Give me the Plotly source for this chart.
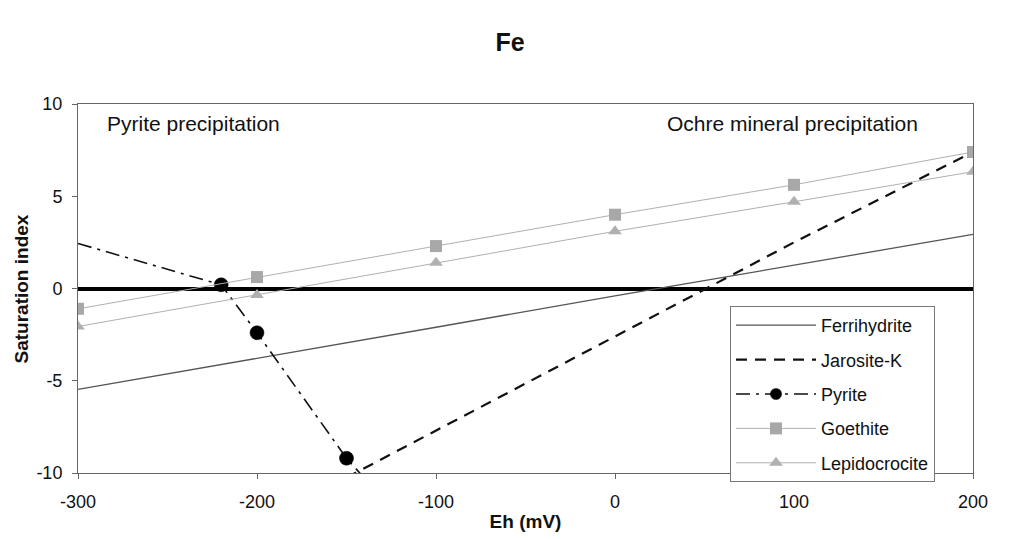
import plotly.graph_objects as go

# ---- data ----
eh_std = [-300, -200, -100, 0, 100, 200]
ferrihydrite = [-5.47, -3.8, -2.1, -0.4, 1.25, 2.93]
goethite = [-1.1, 0.62, 2.3, 4.0, 5.62, 7.4]
lepidocrocite = [-2.06, -0.35, 1.4, 3.1, 4.7, 6.33]

eh_jarosite = [-150, -100, 0, 100, 200]
jarosite = [-10.25, -7.7, -2.6, 2.5, 7.4]

eh_pyrite = [-300, -220, -200, -150, -100]
pyrite = [2.44, 0.2, -2.4, -9.2, -14.6]
pyrite_marker_sizes = [0, 14, 14, 14, 14]

x_ticks = [-300, -200, -100, 0, 100, 200]
x_tick_text = ["-300", "-200", "-100", "0", "100", "200"]
y_ticks = [-10, -5, 0, 5, 10]
y_tick_text = ["-10", "-5", "0", "5", "10"]

FONT = "Arial, Liberation Sans, sans-serif"

fig = go.Figure()

fig.add_trace(go.Scatter(
    x=eh_std, y=ferrihydrite, name="Ferrihydrite", mode="lines",
    line=dict(color="#555555", width=1.3), legendgroup="a"))
fig.add_trace(go.Scatter(
    x=eh_jarosite, y=jarosite, name="Jarosite-K", mode="lines",
    line=dict(color="#111111", width=2.2, dash="11px,8px"), legendgroup="b"))
fig.add_trace(go.Scatter(
    x=eh_pyrite, y=pyrite, name="Pyrite", mode="lines+markers",
    line=dict(color="#111111", width=1.6, dash="14px,6px,3px,6px"),
    marker=dict(symbol="circle", size=pyrite_marker_sizes, color="#000000",
                opacity=1, line=dict(width=0.5, color="#000000")),
    legendgroup="c"))
fig.add_trace(go.Scatter(
    x=eh_std, y=goethite, name="Goethite", mode="lines+markers",
    line=dict(color="#b0b0b0", width=1),
    marker=dict(symbol="square", size=12, color="#a8a8a8"), legendgroup="d"))
fig.add_trace(go.Scatter(
    x=eh_std, y=lepidocrocite, name="Lepidocrocite", mode="lines+markers",
    line=dict(color="#b0b0b0", width=1),
    marker=dict(symbol="triangle-up", size=12, color="#b0b0b0"), legendgroup="e"))

fig.add_annotation(text="Pyrite precipitation", xref="paper", yref="paper",
                   x=0.030, y=0.948, xanchor="left", yanchor="middle",
                   showarrow=False, font=dict(family=FONT, size=21, color="#111"))
fig.add_annotation(text="Ochre mineral precipitation", xref="paper", yref="paper",
                   x=0.941, y=0.948, xanchor="right", yanchor="middle",
                   showarrow=False, font=dict(family=FONT, size=21, color="#111"))
fig.add_annotation(text="<b>Saturation index</b>", xref="paper", yref="paper",
                   x=-0.0626, y=0.5, xanchor="center", yanchor="middle",
                   textangle=-90, showarrow=False,
                   font=dict(family=FONT, size=19, color="#111"))

fig.update_layout(
    width=1002, height=531,
    margin=dict(l=70, r=37, t=96, b=66, autoexpand=False),
    paper_bgcolor="white", plot_bgcolor="white",
    font=dict(family=FONT, color="#111111"),
    title=dict(text="<b>Fe</b>", x=0.501, xanchor="center", y=0.936, yanchor="middle",
               font=dict(family=FONT, size=25, color="#111")),
    legend=dict(x=0.7285, y=0.4526, xanchor="left", yanchor="top",
                bgcolor="white", bordercolor="#777777", borderwidth=1,
                font=dict(family=FONT, size=18, color="#111"),
                itemwidth=80, traceorder="grouped", tracegroupgap=8),
    showlegend=True,
)

fig.update_xaxes(
    range=[-300, 200], tickvals=x_ticks, ticktext=x_tick_text,
    ticks="outside", ticklen=5,
    tickcolor="#666", showgrid=False, zeroline=False,
    showline=True, mirror=True, linecolor="#666666", linewidth=1,
    tickfont=dict(family=FONT, size=18, color="#111"),
    ticklabelstandoff=7,
    title=dict(text="<b>Eh (mV)</b>", standoff=4,
               font=dict(family=FONT, size=19, color="#111")),
)
fig.update_yaxes(
    range=[-10, 10], tickvals=y_ticks, ticktext=y_tick_text,
    ticks="outside", ticklen=5,
    tickcolor="#666", showgrid=False,
    zeroline=True, zerolinecolor="#000000", zerolinewidth=3.5,
    showline=True, mirror=True, linecolor="#666666", linewidth=1,
    tickfont=dict(family=FONT, size=18, color="#111"),
    ticklabelstandoff=6,
)

fig.write_html("out.html")
